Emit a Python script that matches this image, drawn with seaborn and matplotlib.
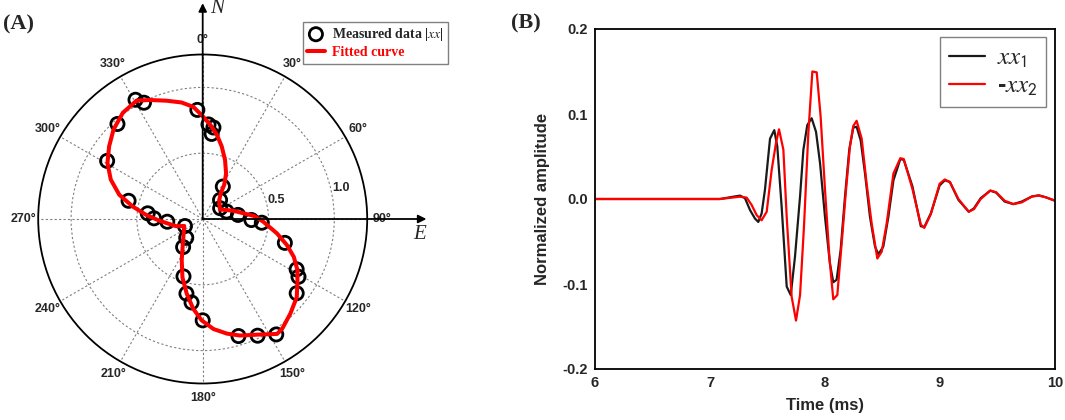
import numpy as np
import pandas as pd
import matplotlib
matplotlib.use("Agg")
import matplotlib.pyplot as plt
import seaborn as sns

sns.set_style("white")
plt.rcParams['font.family'] = ['Liberation Sans', 'DejaVu Sans']
plt.rcParams['mathtext.fontset'] = 'stix'

# ---------------- data: panel A (polar) ----------------
meas_angle_deg = [330.6, 333.2, 318.1, 301.3, 283.8, 275.9, 270.8, 265.6, 248.4, 221.2,
                  214.9, 198.5, 192.3, 187.6, 180.0, 163.0, 154.8, 147.5, 128.3, 121.1,
                  118.2, 106.2, 93.6, 91.2, 83.4, 72.6, 58.3, 42.3, 31.8, 6.0,
                  3.5, 6.7, 357.2]
meas_r = [1.04, 0.99, 0.97, 0.85, 0.58, 0.42, 0.37, 0.27, 0.145, 0.19,
          0.26, 0.46, 0.58, 0.64, 0.77, 0.93, 0.98, 1.04, 0.91, 0.85,
          0.81, 0.65, 0.45, 0.37, 0.27, 0.19, 0.156, 0.196, 0.29, 0.65,
          0.72, 0.70, 0.83]

fit_angle_deg = [330.8, 336.0, 343.0, 349.7, 355.2, 359.4, 364.5, 369.5, 374.7, 380.7,
                 387.1, 392.1, 395.0, 401.3, 420.9, 434.8, 446.6, 452.5, 461.0, 467.2,
                 472.6, 478.5, 484.2, 489.8, 497.2, 504.1, 507.1, 513.6, 522.2, 528.1,
                 534.4, 540.6, 546.0, 552.1, 559.1, 567.1, 575.9, 593.4, 609.4, 614.9,
                 627.8, 634.1, 640.1, 646.2, 653.2, 660.5, 667.8, 675.1, 683.1, 690.8]
fit_r = [1.03, 0.99, 0.94, 0.90, 0.855, 0.79, 0.72, 0.65, 0.57, 0.48,
         0.39, 0.31, 0.24, 0.19, 0.15, 0.24, 0.39, 0.46, 0.575, 0.67,
         0.75, 0.82, 0.87, 0.93, 0.98, 1.03, 1.04, 0.98, 0.93, 0.89,
         0.84, 0.77, 0.686, 0.58, 0.47, 0.35, 0.26, 0.18, 0.15, 0.21,
         0.33, 0.43, 0.54, 0.66, 0.76, 0.84, 0.90, 0.96, 1.01, 1.03]

theta_ticks_deg = [0, 30, 60, 90, 120, 150, 180, 210, 240, 270, 300, 330]
theta_tick_labels = ["0°", "30°", "60°", "90°", "120°", "150°", "180°", "210°",
                     "240°", "270°", "300°", "330°"]
r_ticks = [0.5, 1.0]
r_tick_labels = ["0.5", "1.0"]

# ---------------- data: panel B (waveforms) ----------------
t_xx1 = [6.0, 7.087, 7.203, 7.261, 7.304, 7.348, 7.391, 7.42, 7.449, 7.478,
         7.522, 7.559, 7.585, 7.623, 7.667, 7.702, 7.739, 7.783, 7.812, 7.846,
         7.884, 7.922, 7.957, 8.0, 8.043, 8.072, 8.101, 8.136, 8.174, 8.211,
         8.246, 8.275, 8.31, 8.348, 8.391, 8.435, 8.464, 8.507, 8.551, 8.595,
         8.655, 8.685, 8.76, 8.833, 8.863, 8.92, 8.997, 9.042, 9.086, 9.16,
         9.25, 9.295, 9.354, 9.437, 9.488, 9.562, 9.637, 9.711, 9.80, 9.86,
         9.92, 10.0]
a_xx1 = [0.0, 0.0, 0.0027, 0.004, 0.001, -0.013, -0.023, -0.027, -0.017, 0.011,
         0.071, 0.081, 0.062, -0.009, -0.103, -0.113, -0.068, 0.003, 0.058, 0.087,
         0.095, 0.079, 0.042, -0.021, -0.076, -0.098, -0.095, -0.060, 0.003, 0.058,
         0.084, 0.085, 0.069, 0.030, -0.021, -0.056, -0.065, -0.056, -0.021, 0.022,
         0.047, 0.046, 0.015, -0.032, -0.033, -0.017, 0.016, 0.022, 0.020, -0.001,
         -0.015, -0.011, 0.001, 0.0098, 0.0075, -0.003, -0.006, -0.003, 0.003, 0.0043,
         0.002, -0.002]

t_xx2 = [6.0, 7.087, 7.261, 7.319, 7.362, 7.406, 7.449, 7.493, 7.536, 7.574,
         7.6, 7.638, 7.667, 7.71, 7.748, 7.783, 7.817, 7.855, 7.89, 7.928,
         7.962, 8.0, 8.038, 8.072, 8.107, 8.145, 8.183, 8.217, 8.246, 8.275,
         8.319, 8.362, 8.406, 8.455, 8.493, 8.536, 8.595, 8.655, 8.685, 8.76,
         8.833, 8.863, 8.92, 8.997, 9.042, 9.086, 9.16, 9.25, 9.295, 9.354,
         9.437, 9.488, 9.562, 9.637, 9.711, 9.80, 9.86, 9.92, 10.0]
a_xx2 = [0.0, 0.0, 0.0027, 0.0016, -0.007, -0.019, -0.025, -0.015, 0.034, 0.066,
         0.082, 0.058, -0.021, -0.115, -0.143, -0.113, -0.033, 0.077, 0.150, 0.149,
         0.097, 0.011, -0.068, -0.118, -0.113, -0.052, 0.011, 0.062, 0.086, 0.092,
         0.071, 0.018, -0.029, -0.070, -0.062, -0.029, 0.030, 0.048, 0.047, 0.012,
         -0.030, -0.034, -0.018, 0.018, 0.023, 0.020, 0.000, -0.015, -0.012, 0.000,
         0.010, 0.008, -0.002, -0.006, -0.004, 0.003, 0.004, 0.002, -0.002]

x_ticks = [6, 7, 8, 9, 10]
y_ticks = [-0.2, -0.1, 0.0, 0.1, 0.2]
y_tick_labels = ["-0.2", "-0.1", "0.0", "0.1", "0.2"]

# ---------------- figure ----------------
W, H = 1065, 420
fig = plt.figure(figsize=(W / 100, H / 100), dpi=100)

# ---- Panel A ----
axA = fig.add_axes([38.2 / W, 36.5 / H, 329 / W, 329 / H], projection='polar')
axA.set_theta_zero_location('N')
axA.set_theta_direction(-1)
axA.set_rlim(0, 1.25)

meas_df = pd.DataFrame({'theta': np.deg2rad(meas_angle_deg), 'r': meas_r})
fit_df = pd.DataFrame({'theta': np.deg2rad(fit_angle_deg + [fit_angle_deg[0] + 360]),
                       'r': fit_r + [fit_r[0]]})

sns.scatterplot(data=meas_df, x='theta', y='r', ax=axA, marker='o', s=90,
                facecolors='none', edgecolor='black', linewidth=2.0,
                label='Measured data |$xx$|', zorder=3)
sns.lineplot(data=fit_df, x='theta', y='r', ax=axA, sort=False, estimator=None,
             color='#ff0000', linewidth=2.9, label='Fitted curve', zorder=4)
axA.set_xlabel('')
axA.set_ylabel('')

axA.set_thetagrids(theta_ticks_deg, theta_tick_labels)
axA.set_rgrids(r_ticks, r_tick_labels, angle=79)
axA.tick_params(axis='x', pad=0, labelsize=9)
axA.tick_params(axis='y', labelsize=9)
for lab in axA.get_xticklabels() + axA.get_yticklabels():
    lab.set_fontweight('bold')
axA.grid(True, color='#808080', linestyle=(0, (2, 2)), linewidth=0.8)
axA.spines['polar'].set_linewidth(1.3)
axA.spines['polar'].set_color('black')

arrow_kw = dict(arrowstyle='-|>', color='black', lw=1.3, mutation_scale=12,
                shrinkA=0, shrinkB=0)
axA.annotate('', xy=(0, 1.64), xytext=(0, 0), arrowprops=arrow_kw,
             annotation_clip=False, zorder=5)
axA.annotate('', xy=(np.pi / 2, 1.70), xytext=(0, 0), arrowprops=arrow_kw,
             annotation_clip=False, zorder=5)
axA.text(np.deg2rad(3.8), 1.605, 'N', family='Liberation Serif', style='italic',
         fontsize=15, ha='center', va='center', clip_on=False)
axA.text(np.deg2rad(94.2), 1.65, 'E', family='Liberation Serif', style='italic',
         fontsize=15, ha='center', va='center', clip_on=False)

legA = axA.legend(loc='upper left', bbox_to_anchor=(302.7 / W, 1 - 21.7 / H),
                  bbox_transform=fig.transFigure, borderaxespad=0,
                  prop={'family': 'Liberation Serif', 'weight': 'bold', 'size': 10},
                  handlelength=1.3, handletextpad=0.5, labelspacing=0.25,
                  borderpad=0.3, fancybox=False, edgecolor='#808080', framealpha=1)
legA.get_frame().set_linewidth(1.0)
legA.get_texts()[1].set_color('#ff0000')

fig.text(19 / W, 1 - 24 / H, '(A)', family='Liberation Serif', weight='bold',
         fontsize=16, ha='center', va='center')

# ---- Panel B ----
axB = fig.add_axes([595 / W, 51 / H, 460 / W, 340 / H])
dfB1 = pd.DataFrame({'t': t_xx1, 'a': a_xx1})
dfB2 = pd.DataFrame({'t': t_xx2, 'a': a_xx2})
sns.lineplot(data=dfB1, x='t', y='a', ax=axB, sort=False, estimator=None,
             color='#1a1a1a', linewidth=1.6, label=r'$xx_{\mathsf{1}}$')
sns.lineplot(data=dfB2, x='t', y='a', ax=axB, sort=False, estimator=None,
             color='#ff0000', linewidth=1.6, label=r'-$xx_{\mathsf{2}}$')
axB.set_xlim(6, 10)
axB.set_ylim(-0.2, 0.2)
axB.set_xticks(x_ticks)
axB.set_xticklabels([str(v) for v in x_ticks])
axB.set_yticks(y_ticks)
axB.set_yticklabels(y_tick_labels)
axB.set_xticks([6.5, 7.5, 8.5, 9.5], minor=True)
axB.set_yticks([-0.15, -0.05, 0.05, 0.15], minor=True)
axB.tick_params(axis='both', which='major', direction='in', length=5, width=1,
                labelsize=10.5, pad=5)
axB.tick_params(axis='both', which='minor', direction='in', length=3, width=1)
for lab in axB.get_xticklabels() + axB.get_yticklabels():
    lab.set_fontweight('bold')
for sp in axB.spines.values():
    sp.set_linewidth(1.3)
    sp.set_color('black')
axB.set_xlabel('Time (ms)', fontsize=12, fontweight='bold', labelpad=6)
axB.set_ylabel('Normalized amplitude', fontsize=12, fontweight='bold', labelpad=9)

legB = axB.legend(loc='upper right', bbox_to_anchor=(1 - 9 / 460, 1 - 7.7 / 340),
                  borderaxespad=0, prop={'family': 'Liberation Sans', 'weight': 'bold', 'size': 18},
                  handlelength=1.45, handletextpad=0.45, labelspacing=0.15,
                  borderpad=0.35, fancybox=False, edgecolor='#808080', framealpha=1)
legB.get_frame().set_linewidth(1.0)

fig.text(526 / W, 1 - 23.5 / H, '(B)', family='Liberation Serif', weight='bold',
         fontsize=16, ha='center', va='center')

fig.savefig('out.png', dpi=100)
